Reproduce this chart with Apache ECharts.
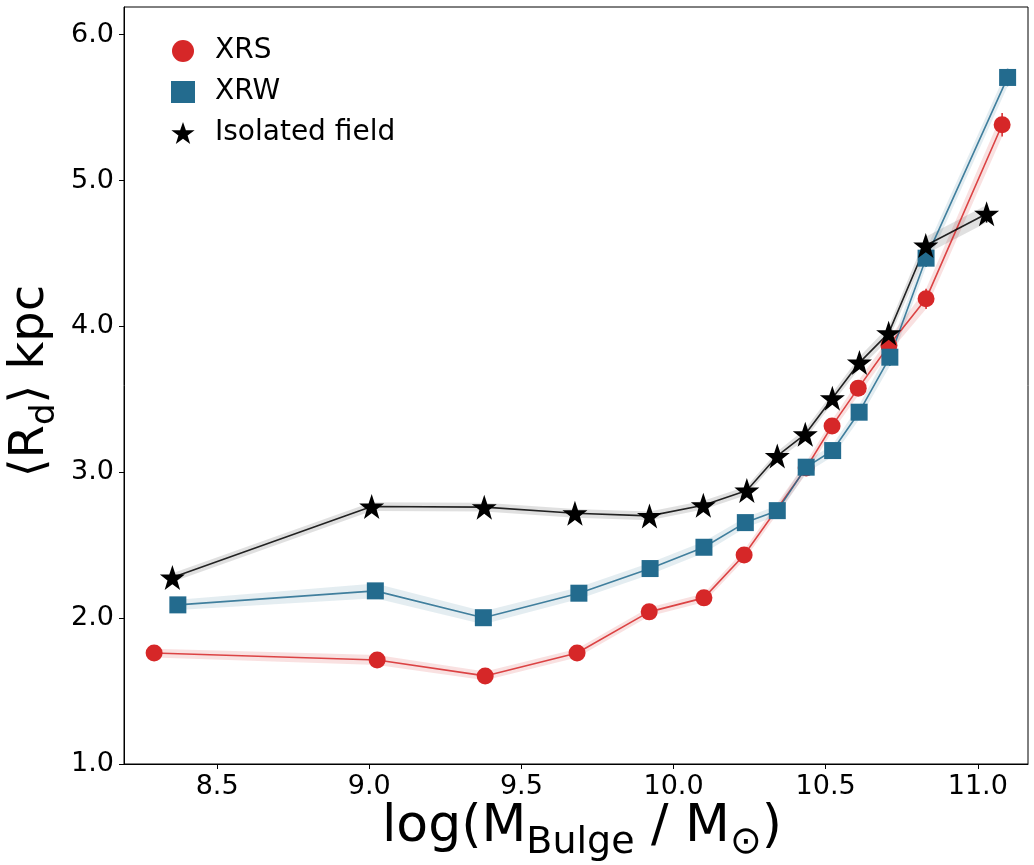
<!DOCTYPE html>
<html>
<head>
<meta charset="utf-8">
<script src="https://cdn.jsdelivr.net/npm/echarts@6/dist/echarts.min.js"></script>
<style>
  html, body { margin: 0; padding: 0; background: #ffffff; }
  #chart { width: 1034px; height: 865px; }
</style>
</head>
<body>
<div id="chart"></div>
<script>
// ---- data ----
var xrsX   = [8.293, 9.026, 9.381, 9.683, 9.920, 10.100, 10.232, 10.436, 10.521, 10.607, 10.708, 10.830, 11.080];
var xrsY   = [1.761, 1.713, 1.604, 1.761, 2.043, 2.139, 2.433, 3.030, 3.318, 3.577, 3.869, 4.189, 5.383];
var xrsErr = [0.03, 0.035, 0.03, 0.03, 0.03, 0.03, 0.035, 0.04, 0.04, 0.05, 0.05, 0.07, 0.08];

var xrwX   = [8.371, 9.020, 9.375, 9.689, 9.923, 10.100, 10.236, 10.341, 10.436, 10.523, 10.610, 10.711, 10.830, 11.098];
var xrwY   = [2.091, 2.187, 2.003, 2.171, 2.340, 2.486, 2.655, 2.737, 3.035, 3.149, 3.412, 3.789, 4.468, 5.707];
var xrwErr = [0.035, 0.05, 0.045, 0.04, 0.04, 0.04, 0.035, 0.035, 0.04, 0.04, 0.05, 0.06, 0.06, 0.06];

var isoX   = [8.353, 9.008, 9.378, 9.676, 9.921, 10.098, 10.241, 10.341, 10.433, 10.522, 10.611, 10.707, 10.829, 11.029];
var isoY   = [2.278, 2.765, 2.761, 2.719, 2.701, 2.774, 2.875, 3.112, 3.261, 3.508, 3.752, 3.954, 4.555, 4.772];
var isoErr = [0.03, 0.03, 0.03, 0.03, 0.03, 0.03, 0.03, 0.03, 0.035, 0.035, 0.04, 0.045, 0.06, 0.06];

var xTicks = [8.5, 9.0, 9.5, 10.0, 10.5, 11.0];
var yTicks = [1.0, 2.0, 3.0, 4.0, 5.0, 6.0];

var seriesNames = ['XRS', 'XRW', 'Isolated field'];

// ---- styling ----
var FONT = 'DejaVu Sans';
var RED = '#d62728', BLUE = '#236b8e', BLACK = '#000000';
var STAR = 'path://M50,2 L61.8,36.2 L97.6,36.2 L68.7,57.6 L79.4,92 L50,71 L20.6,92 L31.3,57.6 L2.4,36.2 L38.2,36.2 Z';

function pairs(xs, ys) { return xs.map(function (x, i) { return [x, ys[i]]; }); }

function bandSeries(xs, ys, es, fill) {
  return {
    type: 'custom',
    silent: true,
    data: pairs(xs, ys),
    renderItem: function (params, api) {
      if (params.dataIndex !== 0) return null;
      var pts = [];
      for (var i = 0; i < xs.length; i++) pts.push(api.coord([xs[i], ys[i] + es[i]]));
      for (var j = xs.length - 1; j >= 0; j--) pts.push(api.coord([xs[j], ys[j] - es[j]]));
      return { type: 'polygon', shape: { points: pts }, style: { fill: fill, stroke: null } };
    }
  };
}

function errSeries(xs, ys, es, color) {
  return {
    type: 'custom',
    silent: true,
    data: pairs(xs, ys),
    renderItem: function (params, api) {
      var i = params.dataIndex;
      var a = api.coord([xs[i], ys[i] - es[i]]);
      var b = api.coord([xs[i], ys[i] + es[i]]);
      return { type: 'line', shape: { x1: a[0], y1: a[1], x2: b[0], y2: b[1] }, style: { stroke: color, lineWidth: 1.5 } };
    }
  };
}

function lineSeries(name, xs, ys, color, lineColor, symbol, size) {
  return {
    name: name,
    type: 'line',
    data: pairs(xs, ys),
    symbol: symbol,
    symbolSize: size,
    showAllSymbol: true,
    itemStyle: { color: color, opacity: 1 },
    lineStyle: { color: lineColor, width: 1.6 },
    emphasis: { disabled: true },
    animation: false
  };
}

var chart = echarts.init(document.getElementById('chart'), null, { renderer: 'canvas' });

var option = {
  animation: false,
  backgroundColor: '#ffffff',
  textStyle: { fontFamily: FONT },
  grid: {
    left: 124, right: 6, top: 7, bottom: 101,
    show: true, borderColor: '#000', borderWidth: 1, backgroundColor: 'transparent'
  },
  xAxis: {
    type: 'value',
    min: 8.194, max: 11.165,
    axisLine: { show: true, onZero: false, lineStyle: { color: '#000', width: 1 } },
    axisTick: { show: true, length: 5, lineStyle: { color: '#000' }, customValues: xTicks },
    axisLabel: {
      customValues: xTicks, margin: 9,
      color: '#000', fontSize: 27, fontFamily: FONT,
      formatter: function (v) { return v.toFixed(1); }
    },
    splitLine: { show: false }
  },
  yAxis: {
    type: 'value',
    min: 1.0, max: 6.19,
    axisLine: { show: true, onZero: false, lineStyle: { color: '#000', width: 1 } },
    axisTick: { show: true, length: 5, lineStyle: { color: '#000' }, customValues: yTicks },
    axisLabel: {
      customValues: yTicks, margin: 10,
      color: '#000', fontSize: 27, fontFamily: FONT,
      formatter: function (v) { return v.toFixed(1); }
    },
    splitLine: { show: false }
  },
  legend: {
    orient: 'vertical',
    left: 166, top: 32,
    itemWidth: 24, itemHeight: 22,
    itemGap: 13,
    selectedMode: false,
    textStyle: { fontSize: 28, fontFamily: FONT, color: '#000', padding: [0, 0, 0, 15] },
    data: [
      { name: seriesNames[0], icon: 'circle', itemStyle: { color: RED } },
      { name: seriesNames[1], icon: 'rect', itemStyle: { color: BLUE } },
      { name: seriesNames[2], icon: STAR, itemStyle: { color: BLACK } }
    ]
  },
  graphic: [
    {
      type: 'text',
      x: 582, y: 862,
      style: {
        text: '{a|log(M}{b|Bulge}{a| / M}{b|⊙}{a|)}',
        textAlign: 'center',
        textVerticalAlign: 'bottom',
        rich: {
          a: { fontFamily: FONT, fontSize: 52, fill: '#000', verticalAlign: 'bottom', lineHeight: 60, padding: [0, 0, 9, 0] },
          b: { fontFamily: FONT, fontSize: 38, fill: '#000', verticalAlign: 'bottom', lineHeight: 60, padding: [0, 0, 0, 0] }
        }
      }
    },
    {
      type: 'text',
      x: 64, y: 381,
      rotation: Math.PI / 2,
      style: {
        text: '{a|⟨R}{b|d}{a|⟩ kpc}',
        textAlign: 'center',
        textVerticalAlign: 'bottom',
        rich: {
          a: { fontFamily: FONT, fontSize: 48, fill: '#000', verticalAlign: 'bottom', lineHeight: 56, padding: [0, 0, 9, 0] },
          b: { fontFamily: FONT, fontSize: 34, fill: '#000', verticalAlign: 'bottom', lineHeight: 56, padding: [0, 0, 2, 0] }
        }
      }
    }
  ],
  series: [
    bandSeries(xrsX, xrsY, xrsErr, 'rgba(214,39,40,0.14)'),
    errSeries(xrsX, xrsY, xrsErr, RED),
    lineSeries(seriesNames[0], xrsX, xrsY, RED, 'rgba(214,39,40,0.85)', 'circle', 17),
    bandSeries(xrwX, xrwY, xrwErr, 'rgba(35,107,142,0.12)'),
    errSeries(xrwX, xrwY, xrwErr, BLUE),
    lineSeries(seriesNames[1], xrwX, xrwY, BLUE, 'rgba(35,107,142,0.85)', 'rect', 17),
    bandSeries(isoX, isoY, isoErr, 'rgba(0,0,0,0.12)'),
    errSeries(isoX, isoY, isoErr, BLACK),
    lineSeries(seriesNames[2], isoX, isoY, BLACK, 'rgba(0,0,0,0.85)', STAR, 25)
  ]
};

chart.setOption(option);
</script>
</body>
</html>
